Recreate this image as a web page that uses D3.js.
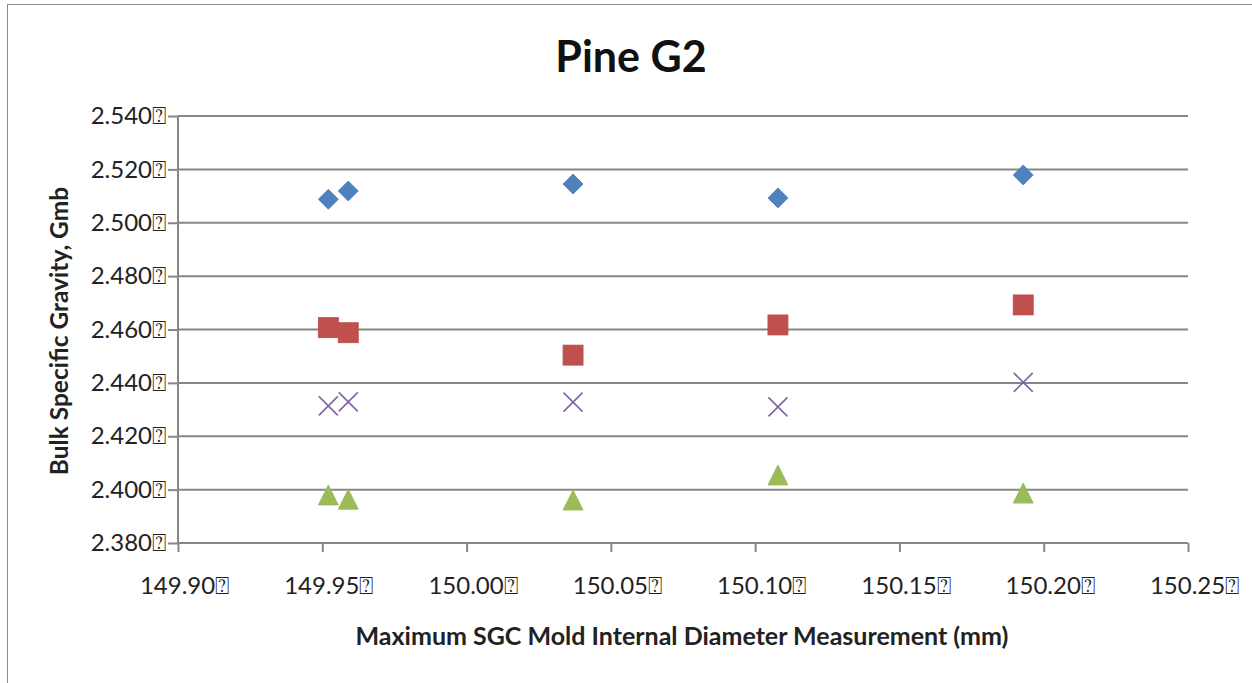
<!DOCTYPE html>
<html><head><meta charset="utf-8">
<script src="https://cdn.jsdelivr.net/npm/d3@7"></script>
<style>
body{margin:0;background:#fff;}
svg{display:block;}
</style></head>
<body><svg id="chart" width="1252" height="683"></svg>
<script>
const title = "Pine G2";
const xTitle = "Maximum SGC Mold Internal Diameter Measurement (mm)";
const yTitle = "Bulk Specific Gravity, Gmb";
const xTicks = [149.90, 149.95, 150.00, 150.05, 150.10, 150.15, 150.20, 150.25];
const yTicks = [2.380, 2.400, 2.420, 2.440, 2.460, 2.480, 2.500, 2.520, 2.540];
const tickSuffix = "\u2370";
const diameters = [149.9521, 149.9590, 150.0369, 150.1079, 150.1929];
const seriesDiamond = [2.5088, 2.5119, 2.5145, 2.5093, 2.5179];
const seriesSquare = [2.4607, 2.4588, 2.4504, 2.4617, 2.4692];
const seriesCross = [2.4314, 2.4329, 2.4328, 2.4310, 2.4402];
const seriesTriangle = [2.3980, 2.3964, 2.3961, 2.4055, 2.3987];

const svg = d3.select("#chart");
const L = 178, R = 1188, T = 116, B = 543;
const x = d3.scaleLinear().domain([149.90, 150.25]).range([L, R]);
const y = d3.scaleLinear().domain([2.380, 2.540]).range([B, T]);
const font = "Lato, 'Open Sans', 'DejaVu Sans', sans-serif";
const grey = "#868686";

svg.append("rect").attr("x", 7.5).attr("y", 4.5).attr("width", 1300).attr("height", 720)
  .attr("fill", "none").attr("stroke", "#8c8c8c").attr("stroke-width", 1);

// gridlines
svg.append("g").selectAll("line").data(yTicks.slice(1)).join("line")
  .attr("x1", L).attr("x2", R).attr("y1", d => y(d)).attr("y2", d => y(d))
  .attr("stroke", grey).attr("stroke-width", 2);

// y axis
const ya = svg.append("g").attr("transform", `translate(${L},0)`)
  .call(d3.axisLeft(y).tickValues(yTicks).tickSize(10).tickPadding(2)
    .tickFormat(d => d3.format(".3f")(d) + tickSuffix));
ya.select(".domain").attr("stroke", grey).attr("stroke-width", 2).attr("d", `M0,${B}V${T}`);
ya.selectAll(".tick line").attr("stroke", grey).attr("stroke-width", 2);
ya.selectAll(".tick text").attr("font-family", font).attr("font-size", 24).attr("fill", "#222");

// x axis
const xa = svg.append("g").attr("transform", `translate(0,${B})`)
  .call(d3.axisBottom(x).tickValues(xTicks).tickSize(9)
    .tickFormat(d => d3.format(".2f")(d) + tickSuffix));
xa.select(".domain").attr("stroke", grey).attr("stroke-width", 2).attr("d", `M${L},0H${R}`);
xa.selectAll(".tick line").attr("stroke", grey).attr("stroke-width", 2);
xa.selectAll(".tick text").attr("font-family", font).attr("font-size", 24).attr("fill", "#222")
  .attr("y", 51).attr("dy", 0).attr("dx", 6);

// title
svg.append("text").attr("x", 631).attr("y", 72).attr("text-anchor", "middle")
  .attr("font-family", font).attr("font-weight", "bold").attr("font-size", 43).attr("fill", "#111").text(title);
svg.append("text").attr("x", 682).attr("y", 645).attr("text-anchor", "middle")
  .attr("font-family", font).attr("font-weight", "bold").attr("font-size", 25).attr("fill", "#222").text(xTitle);
svg.append("text").attr("transform", "translate(68,331) rotate(-90)").attr("text-anchor", "middle")
  .attr("font-family", font).attr("font-weight", "bold").attr("font-size", 24.5).attr("fill", "#222").text(yTitle);

// markers
const g = svg.append("g");
g.selectAll(".dia").data(seriesDiamond).join("path").attr("class", "dia")
  .attr("d", (d, i) => { const cx = x(diameters[i]), cy = y(d), r = 10; return `M${cx},${cy-r}L${cx+r},${cy}L${cx},${cy+r}L${cx-r},${cy}Z`; })
  .attr("fill", "#4F81BD").attr("stroke", "#4A7EBB").attr("stroke-width", 0.8);
g.selectAll(".sq").data(seriesSquare).join("rect").attr("class", "sq")
  .attr("x", (d, i) => x(diameters[i]) - 10).attr("y", d => y(d) - 10)
  .attr("width", 20).attr("height", 20).attr("fill", "#C0504D").attr("stroke", "#BE4B48").attr("stroke-width", 0.8);
g.selectAll(".cr").data(seriesCross).join("path").attr("class", "cr")
  .attr("d", (d, i) => { const cx = x(diameters[i]), cy = y(d), r = 9.5; return `M${cx-r},${cy-r}L${cx+r},${cy+r}M${cx+r},${cy-r}L${cx-r},${cy+r}`; })
  .attr("stroke", "#8064A2").attr("stroke-width", 1.6).attr("fill", "none");
g.selectAll(".tri").data(seriesTriangle).join("path").attr("class", "tri")
  .attr("d", (d, i) => { const cx = x(diameters[i]), cy = y(d); return `M${cx},${cy-10}L${cx+10},${cy+10}L${cx-10},${cy+10}Z`; })
  .attr("fill", "#9BBB59").attr("stroke", "#98B954").attr("stroke-width", 0.8);
</script></body></html>
